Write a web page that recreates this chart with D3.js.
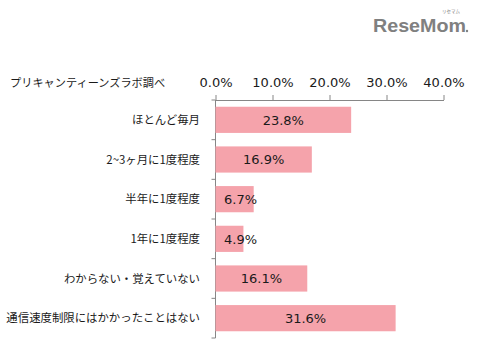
<!DOCTYPE html>
<html><head><meta charset="utf-8">
<script src="https://cdn.jsdelivr.net/npm/d3@7"></script>
<style>body{margin:0;background:#fff}</style>
</head><body>
<svg id="c" width="480" height="350"></svg>
<script>
const categories = ["ほとんど毎月","2~3ヶ月に1度程度","半年に1度程度","1年に1度程度","わからない・覚えていない","通信速度制限にはかかったことはない"];
const values = [23.8, 16.9, 6.7, 4.9, 16.1, 31.6];
const tickValues = [0, 10, 20, 30, 40];
const title = "プリキャンティーンズラボ調べ";

const svg = d3.select("#c");
const x0 = 215.5, x1 = 443.5, yTop = 100, yBot = 338;
const x = d3.scaleLinear().domain([0, 40]).range([x0, x1]);
const y = d3.scaleBand().domain(categories).range([yTop, yBot]).paddingInner(0.34).paddingOuter(0.17);
const jp = "'Noto Sans CJK JP', sans-serif";
const num = "'DejaVu Sans', Verdana, sans-serif";
const axisCol = "#868686";

// top axis
const xa = d3.axisTop(x).tickValues(tickValues).tickSize(5).tickSizeOuter(0).tickFormat(d => d.toFixed(1) + "%");
const gx = svg.append("g").attr("transform", `translate(0,${yTop})`).call(xa);
gx.select(".domain").attr("stroke", axisCol);
gx.selectAll(".tick line").attr("stroke", axisCol);
gx.selectAll(".tick text").attr("font-family", num).attr("font-size", 13).attr("fill", "#1a1a1a").attr("dy", 0).attr("y", -13.5);

// left axis line and ticks at band boundaries
svg.append("line").attr("x1", x0).attr("x2", x0).attr("y1", yTop).attr("y2", yBot).attr("stroke", axisCol);
const step = (yBot - yTop) / categories.length;
svg.selectAll(".yt").data(d3.range(categories.length + 1)).join("line")
  .attr("x1", x0 - 4).attr("x2", x0).attr("y1", i => yTop + i * step).attr("y2", i => yTop + i * step)
  .attr("stroke", axisCol);

// category labels
svg.selectAll(".cl").data(categories).join("text")
  .attr("x", 200).attr("y", d => y(d) + y.bandwidth() / 2).attr("dy", "0.36em")
  .attr("text-anchor", "end").attr("font-family", jp).attr("font-size", 11.4).attr("fill", "#1a1a1a")
  .text(d => d);

// bars
svg.selectAll(".bar").data(values).join("rect")
  .attr("x", x(0)).attr("y", (d, i) => y(categories[i]))
  .attr("width", d => x(d) - x(0)).attr("height", y.bandwidth())
  .attr("fill", "#F5A3AB");

// value labels
svg.selectAll(".vl").data(values).join("text")
  .attr("x", d => Math.max((x(0) + x(d)) / 2, x(0) + 25))
  .attr("y", (d, i) => y(categories[i]) + y.bandwidth() / 2).attr("dy", "0.36em")
  .attr("text-anchor", "middle").attr("font-family", num).attr("font-size", 13).attr("fill", "#1a1a1a")
  .text(d => d.toFixed(1) + "%");

// title
svg.append("text").attr("x", 10).attr("y", 83).attr("dy", "0.36em")
  .attr("font-family", jp).attr("font-size", 11.2).attr("fill", "#1a1a1a").text(title);

// logo
svg.append("text").attr("x", 373).attr("y", 32).attr("font-family", "'Liberation Sans', Arial, sans-serif")
  .attr("font-weight", "bold").attr("font-size", 18.5).attr("fill", "#808080")
  .attr("textLength", 93).attr("lengthAdjust", "spacingAndGlyphs").text("ReseMom");
svg.append("circle").attr("cx", 467).attr("cy", 31).attr("r", 1.2).attr("fill", "#808080");
svg.append("text").attr("x", 451).attr("y", 13).attr("text-anchor", "middle").attr("font-family", jp)
  .attr("font-size", 4.5).attr("fill", "#808080").text("リセマム");
</script>
</body></html>
